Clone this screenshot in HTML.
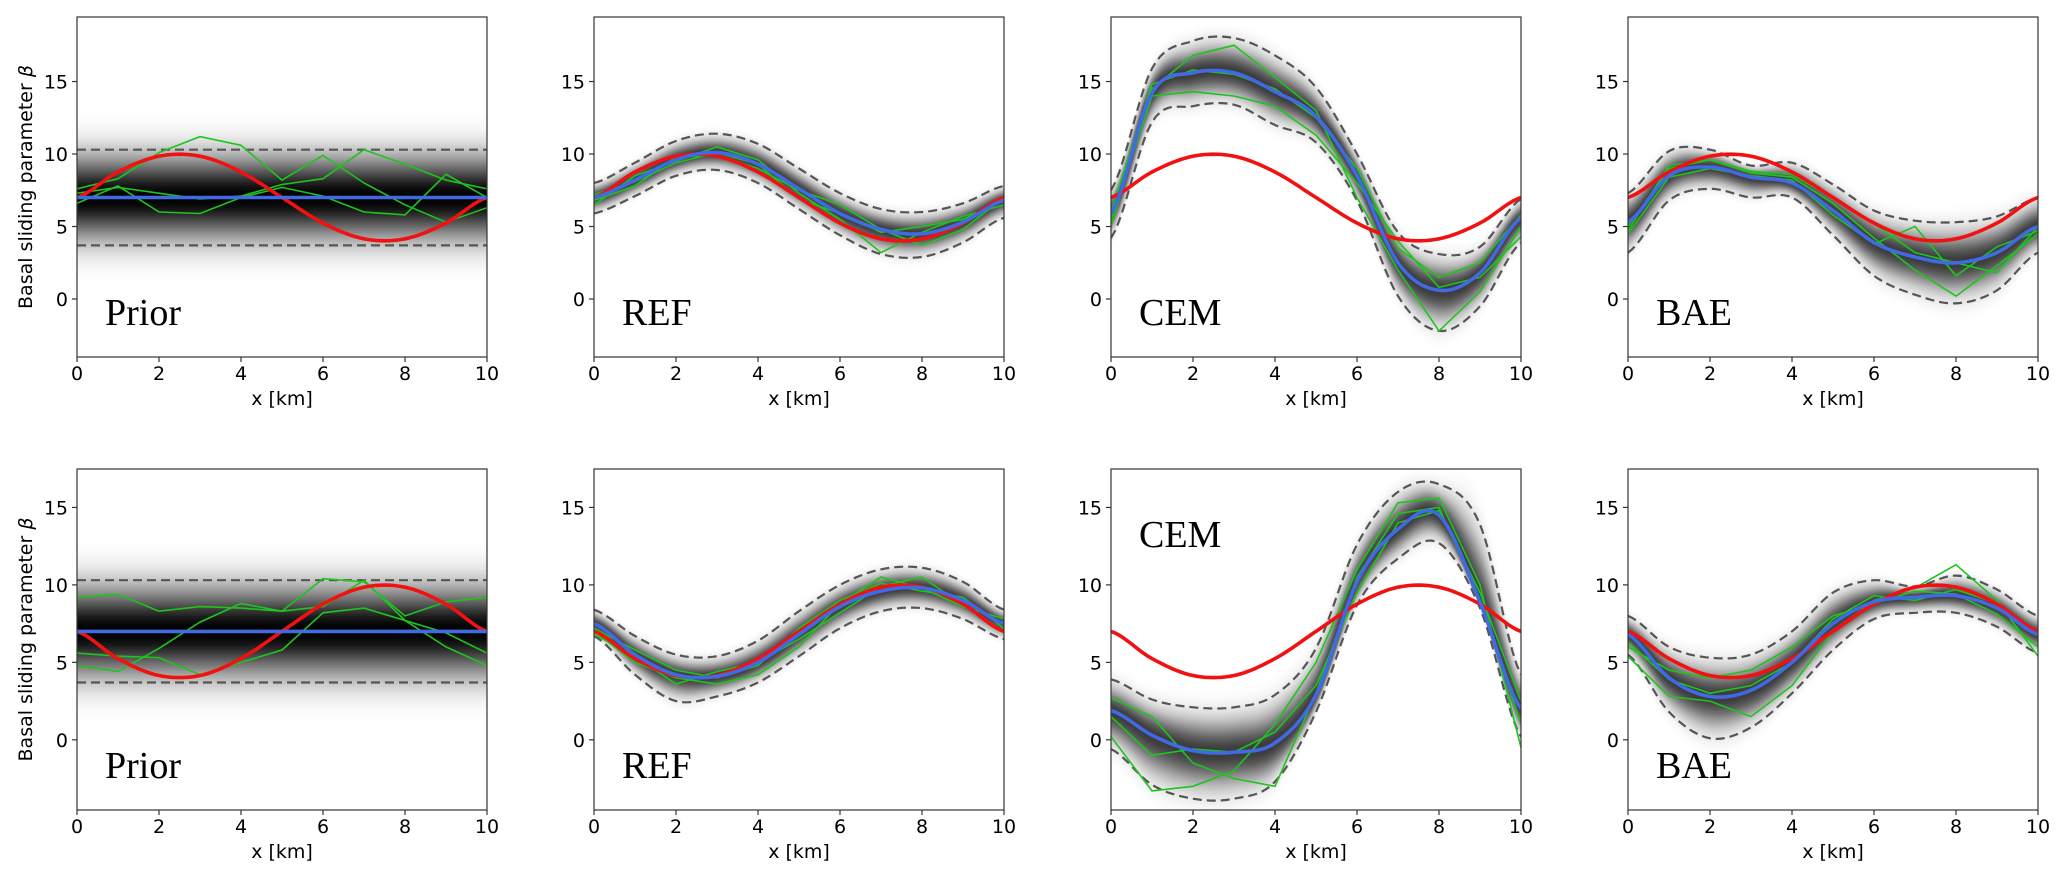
<!DOCTYPE html>
<html><head><meta charset="utf-8"><style>
html,body{margin:0;padding:0;background:#fff;}
svg{display:block;}
</style></head><body>
<svg id="fig" width="2067" height="878" viewBox="0 0 2067 878" xmlns="http://www.w3.org/2000/svg"></svg>
<script>
// ---- data (values at x = 0,1,...,10 km) ----
const xs = [0,1,2,3,4,5,6,7,8,9,10];
const xTicks = [0,2,4,6,8,10];
const yTicks = [0,5,10,15];
const panelNames = ["Prior","REF","CEM","BAE","Prior","REF","CEM","BAE"];
const truthRow1 = [7,8.76,9.85,9.85,8.76,7,5.24,4.15,4.15,5.24,7];
const truthRow2 = [7,5.24,4.15,4.15,5.24,7,8.76,9.85,9.85,8.76,7];
const meanP = [
 [7,7,7,7,7,7,7,7,7,7,7],
 [7.0,8.2,9.6,10.1,9.3,7.6,5.9,4.8,4.5,5.3,6.8],
 [5.9,14.2,15.6,15.6,14.3,12.6,8.5,2.5,0.6,1.8,5.6],
 [5.3,8.5,9.1,8.4,8.0,6.1,3.9,2.9,2.5,3.2,5.0],
 [7,7,7,7,7,7,7,7,7,7,7],
 [7.5,5.5,4.2,4.1,5.0,6.8,8.6,9.6,9.8,9.0,7.5],
 [1.9,0.3,-0.7,-0.8,-0.2,2.9,10.2,13.6,14.5,8.9,2.0],
 [6.8,4.0,2.8,3.2,5.0,7.5,8.9,9.2,9.3,8.5,6.8]
];
const upperP = [
 [10.3,10.3,10.3,10.3,10.3,10.3,10.3,10.3,10.3,10.3,10.3],
 [8.0,9.4,10.9,11.4,10.7,9.0,7.3,6.2,6.0,6.6,7.8],
 [7.5,15.9,17.8,18.0,16.8,14.6,10.0,4.6,3.1,3.6,6.9],
 [7.3,10.2,10.3,9.2,9.4,7.9,6.1,5.4,5.3,5.7,7.0],
 [10.3,10.3,10.3,10.3,10.3,10.3,10.3,10.3,10.3,10.3,10.3],
 [8.4,6.7,5.5,5.4,6.4,8.3,10.0,11.0,11.1,10.2,8.4],
 [3.9,2.6,2.1,2.1,2.9,5.9,12.6,16.0,16.5,13.9,4.2],
 [8.0,6.0,5.3,5.5,7.0,9.5,10.3,9.9,10.6,9.7,8.0]
];
const lowerP = [
 [3.7,3.7,3.7,3.7,3.7,3.7,3.7,3.7,3.7,3.7,3.7],
 [5.9,7.1,8.5,8.9,8.0,6.2,4.4,3.1,2.9,3.9,5.6],
 [4.2,12.2,13.3,13.4,12.0,10.8,6.8,0.2,-2.2,-0.5,3.9],
 [3.2,6.8,7.6,7.0,7.0,4.4,1.6,0.3,-0.3,0.6,3.2],
 [3.7,3.7,3.7,3.7,3.7,3.7,3.7,3.7,3.7,3.7,3.7],
 [6.7,4.2,2.5,2.8,3.7,5.4,7.2,8.3,8.5,7.8,6.5],
 [-0.6,-2.9,-3.8,-3.8,-2.7,1.8,8.7,11.7,12.7,8.5,0.2],
 [5.5,1.8,0.1,0.8,3.0,5.8,7.8,8.2,8.2,7.3,5.6]
];
const sample1 = [
 [7.6,8.3,10.1,11.2,10.6,8.2,9.9,8.0,6.5,5.3,6.3],
 [6.5,8.5,9.5,10.5,9.6,7.3,5.5,3.2,4.6,5.7,6.5],
 [5.0,14.5,16.8,17.5,15.3,13.0,7.0,2.0,-2.2,0.5,5.0],
 [4.7,9.2,9.6,8.8,8.6,7.0,5.2,3.2,2.5,1.8,5.0],
 [9.2,9.4,8.3,8.6,8.5,8.3,10.4,10.2,8.0,8.9,9.2],
 [7.0,5.0,4.0,3.6,4.2,6.0,8.8,10.5,9.8,8.6,7.8],
 [0.2,-3.3,-3.0,-2.0,1.0,5.0,11.0,15.3,15.6,10.0,-0.5],
 [5.4,2.8,2.5,1.5,3.5,7.0,9.0,9.8,11.3,9.0,5.4]
];
const sample2 = [
 [7.3,7.7,7.3,6.9,7.1,7.9,8.3,10.3,9.3,8.2,7.6],
 [6.8,7.8,9.8,9.9,9.0,7.5,6.5,4.8,3.7,4.8,7.0],
 [5.5,14.0,14.3,14.0,13.3,11.3,8.0,4.0,0.8,1.5,4.3],
 [4.5,8.4,9.0,8.5,8.2,5.8,3.8,5.0,1.6,3.6,4.7],
 [5.6,5.4,5.3,4.2,5.0,5.8,8.2,8.5,7.7,6.0,4.8],
 [6.8,5.4,3.6,4.4,5.0,6.5,8.2,9.9,10.5,8.7,7.0],
 [2.7,1.5,-1.5,-2.5,-3.0,3.0,10.5,14.6,15.0,9.0,1.0],
 [6.3,3.9,3.0,3.5,5.0,7.8,9.3,9.0,9.7,8.8,6.7]
];
const sample3 = [
 [6.6,7.8,6.0,5.9,7.0,7.7,7.1,6.0,5.8,8.6,7.0],
 [7.2,8.1,9.4,10.1,9.3,6.9,5.9,4.6,5.0,5.5,6.8],
 [6.0,14.8,15.8,15.5,14.5,12.5,9.0,3.5,1.5,2.5,5.8],
 [5.0,9.0,9.6,8.7,8.4,6.6,4.2,2.0,0.2,2.3,4.5],
 [4.8,4.4,5.9,7.6,8.8,8.3,8.6,10.3,7.7,6.9,5.6],
 [7.2,5.8,4.5,4.0,4.8,7.2,9.0,10.1,9.6,9.2,7.2],
 [1.5,-1.0,-0.6,-0.8,0.5,3.5,9.5,14.0,14.8,9.5,2.5],
 [6.0,4.5,4.0,4.5,6.0,8.0,8.8,9.6,9.4,8.1,6.0]
];

// ---- layout ----
const NS = "http://www.w3.org/2000/svg";
const svg = document.getElementById('fig');
const lefts = [77,594,1111,1628];
const W = 410;
const rows = [
  {top:17, bottom:357, ymin:-4.0, ymax:19.45},
  {top:469, bottom:810, ymin:-4.53, ymax:17.48}
];
function mk(tag, attrs, parent){
  const e = document.createElementNS(NS, tag);
  for (const k in attrs) e.setAttribute(k, attrs[k]);
  (parent||svg).appendChild(e);
  return e;
}
function spline(vals){
  const out=[];
  const n=vals.length;
  for(let i=0;i<n-1;i++){
    const p0=vals[Math.max(0,i-1)],p1=vals[i],p2=vals[i+1],p3=vals[Math.min(n-1,i+2)];
    for(let s=0;s<10;s++){
      const t=s/10,t2=t*t,t3=t2*t;
      const v=0.5*((2*p1)+(-p0+p2)*t+(2*p0-5*p1+4*p2-p3)*t2+(-p0+3*p1-3*p2+p3)*t3);
      out.push([xs[i]+(xs[i+1]-xs[i])*t, v]);
    }
  }
  out.push([xs[n-1], vals[n-1]]);
  return out;
}

const defs = mk('defs',{});
for(let p=0;p<8;p++){
  const r = rows[Math.floor(p/4)];
  const L = lefts[p%4];
  const H = r.bottom - r.top;
  const sx = v => L + (v-0)/10*W;
  const sy = v => r.bottom - (v-r.ymin)/(r.ymax-r.ymin)*H;
  const truth = p<4 ? truthRow1 : truthRow2;

  const g = mk('g',{});
  
  

  const cp = mk('clipPath',{id:'clip'+p}, defs);
  mk('rect',{x:L,y:r.top,width:W,height:H}, cp);
  const plot = mk('g',{'clip-path':'url(#clip'+p+')'}, g);

  const mS = spline(meanP[p]), uS = spline(upperP[p]), lS = spline(lowerP[p]);
  const isPrior = panelNames[p]==="Prior";
  const Dmax = isPrior ? 0.985 : 0.75;
  const k = isPrior ? 1.5 : 2.2;
  const D = f => Dmax*Math.exp(-k*f*f);
  const band = mk('g',{}, plot);
  
  
  const df = 0.04;
  for(let f=1.8; f>0.001; f-=df){
    const dIn = D(Math.max(f-df,0)), dOut = D(f);
    const o = 1 - (1-dIn)/(1-dOut);
    const fe = f - df/2;
    const top = mS.map((pt,i)=>[pt[0], pt[1]+fe*(uS[i][1]-pt[1])]);
    const bot = mS.map((pt,i)=>[pt[0], pt[1]-fe*(pt[1]-lS[i][1])]).reverse();
    const pts = top.concat(bot).map(q=>sx(q[0]).toFixed(1)+','+sy(q[1]).toFixed(1)).join(' ');
    mk('polygon',{points:pts, fill:'#000', 'fill-opacity':o.toFixed(4), stroke:'none'}, band);
  }

  const path = arr => arr.map((q,i)=>(i?'L':'M')+sx(q[0]).toFixed(1)+','+sy(q[1]).toFixed(1)).join('');
  const upl = mk('path',{d:path(uS), fill:'none', stroke:'#555', 'stroke-width':2.2, 'stroke-dasharray':'9,5'}, plot);
  
  
  const lol = mk('path',{d:path(lS), fill:'none', stroke:'#555', 'stroke-width':2.2, 'stroke-dasharray':'9,5'}, plot);
  
  

  [sample1[p],sample2[p],sample3[p]].forEach((s,k2)=>{
    const gl = mk('path',{d:path(s.map((v,i)=>[xs[i],v])), fill:'none', stroke:'#1ec41e', 'stroke-width':1.6}, plot);
    
    
  });
  const tr = mk('path',{d:path(spline(truth)), fill:'none', stroke:'#f21111', 'stroke-width':3.6}, plot);
  
  
  const mn = mk('path',{d:path(mS), fill:'none', stroke:'#4169e1', 'stroke-width':3.6}, plot);
  
  

  const fr = mk('rect',{x:L,y:r.top,width:W,height:H,fill:'none',stroke:'#333','stroke-width':1.2}, g);
  
  

  xTicks.forEach(t=>{
    mk('line',{x1:sx(t),x2:sx(t),y1:r.bottom,y2:r.bottom+5,stroke:'#333','stroke-width':1.2}, g);
    const tl = mk('text',{x:sx(t),y:r.bottom+23,'text-anchor':'middle','font-size':19,'font-family':'DejaVu Sans, Liberation Sans, sans-serif',fill:'#000'}, g);
    tl.textContent = t;
    
    
  });
  yTicks.forEach(t=>{
    mk('line',{x1:L-5,x2:L,y1:sy(t),y2:sy(t),stroke:'#333','stroke-width':1.2}, g);
    const tl = mk('text',{x:L-9,y:sy(t)+7,'text-anchor':'end','font-size':19,'font-family':'DejaVu Sans, Liberation Sans, sans-serif',fill:'#000'}, g);
    tl.textContent = t;
    
    
  });
  const xl = mk('text',{x:L+W/2,y:r.bottom+48,'text-anchor':'middle','font-size':19,'font-family':'DejaVu Sans, Liberation Sans, sans-serif',fill:'#000'}, g);
  xl.textContent = 'x [km]';
  
  

  const topLabel = (p===6);
  const pl = mk('text',{x:L+28,y: topLabel ? 547 : r.bottom-32,'font-size':38,'font-family':'Liberation Serif, serif',fill:'#000'}, g);
  pl.textContent = panelNames[p];
  
  

  if(p%4===0){
    const cy = (r.top+r.bottom)/2;
    const yl = mk('text',{x:0,y:0,transform:'translate(32,'+cy+') rotate(-90)','text-anchor':'middle','font-size':19,'font-family':'DejaVu Sans, Liberation Sans, sans-serif',fill:'#000'}, g);
    yl.textContent = 'Basal sliding parameter ';
    const ts = mk('tspan',{'font-style':'italic'}, yl);
    ts.textContent = 'β';
    
    
  }
}
</script>
</body></html>
